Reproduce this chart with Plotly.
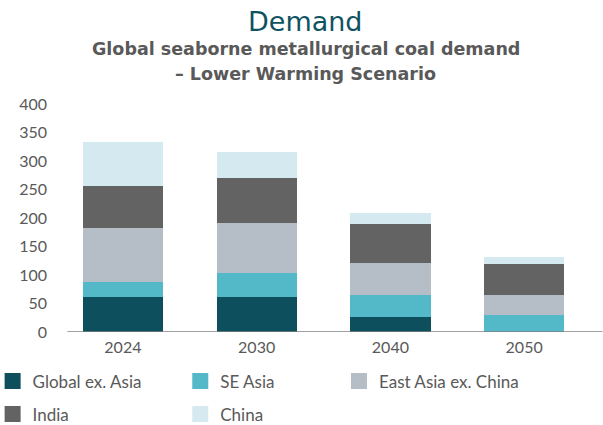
import plotly.graph_objects as go

years = ["2024", "2030", "2040", "2050"]
series_names = ["Global ex. Asia", "SE Asia", "East Asia ex. China", "India", "China"]
global_ex_asia = [62, 62, 27, 0]
se_asia = [26, 42, 38, 30]
east_asia_ex_china = [94, 87, 56, 35]
india = [75, 80, 68, 55]
china = [76, 44, 20, 12]
y_ticks = [0, 50, 100, 150, 200, 250, 300, 350, 400]

colors = ["#0D4F5C", "#53B8C8", "#B5BEC6", "#636363", "#D5EAF0"]
values = [global_ex_asia, se_asia, east_asia_ex_china, india, china]
legend_ids = ["legend", "legend2", "legend3", "legend", "legend2"]

TXT = "#595959"

fig = go.Figure()
for name, vals, col in zip(series_names, values, colors):
    fig.add_trace(go.Bar(x=years, y=vals, name=name, marker=dict(color=col, line=dict(width=0)),
                         showlegend=False))
for name, col, lg in zip(series_names, colors, legend_ids):
    fig.add_trace(go.Scatter(x=[None], y=[None], mode="markers", name=name, legend=lg,
                             legendgroup=name,
                             marker=dict(symbol="square", size=19, color=col, line=dict(width=0))))

L, R, T, B = 55.5, 11.5, 103.5, 92.5
W, H = 603, 425
pw = W - L - R
ph = H - T - B

def px_x(p):
    return (p - L) / pw

def px_y(p):
    return (H - B - p) / ph

legend_common = dict(orientation="v", yanchor="top", xanchor="left",
                     font=dict(family="Lato", size=17, color=TXT),
                     tracegroupgap=8, bgcolor="rgba(0,0,0,0)", itemsizing="trace")

fig.update_layout(
    width=W, height=H,
    margin=dict(l=L, r=R, t=T, b=B, autoexpand=False),
    paper_bgcolor="white", plot_bgcolor="white",
    barmode="stack", bargap=0.4,
    font=dict(family="Lato", color=TXT),
    showlegend=True,
    legend=dict(x=px_x(-8), y=px_y(364), **legend_common),
    legend2=dict(x=px_x(180), y=px_y(364), **legend_common),
    legend3=dict(x=px_x(339), y=px_y(364), **legend_common),
    xaxis=dict(type="category", range=[-0.5, 3.5], showline=False, showgrid=False,
               ticks="", tickfont=dict(family="Lato", size=16, color=TXT), zeroline=False,
               ticklabelstandoff=4),
    yaxis=dict(range=[0, 400], tickvals=y_ticks, showgrid=False, zeroline=False, showline=False,
               ticks="", tickfont=dict(family="Lato", size=16, color=TXT), ticklabelstandoff=8),
    annotations=[
        dict(text="Demand", xref="paper", yref="paper", x=px_x(305), y=px_y(21),
             xanchor="center", yanchor="middle", showarrow=False,
             font=dict(family="DejaVu Sans", size=27, color="#0E5361")),
        dict(text="<b>Global seaborne metallurgical coal demand</b>", xref="paper", yref="paper",
             x=px_x(305.5), y=px_y(48), xanchor="center", yanchor="middle", showarrow=False,
             font=dict(family="DejaVu Sans", size=17.5, color=TXT)),
        dict(text="<b>– Lower Warming Scenario</b>", xref="paper", yref="paper",
             x=px_x(305.5), y=px_y(73), xanchor="center", yanchor="middle", showarrow=False,
             font=dict(family="DejaVu Sans", size=17.5, color=TXT)),
    ],
    shapes=[dict(type="line", xref="paper", yref="y", x0=px_x(67), x1=px_x(603), y0=0, y1=0,
                 line=dict(color="#808080", width=1.5))],
)

fig.write_html("out.html", config={"displayModeBar": False},
               post_script="document.body.style.margin='0';")
